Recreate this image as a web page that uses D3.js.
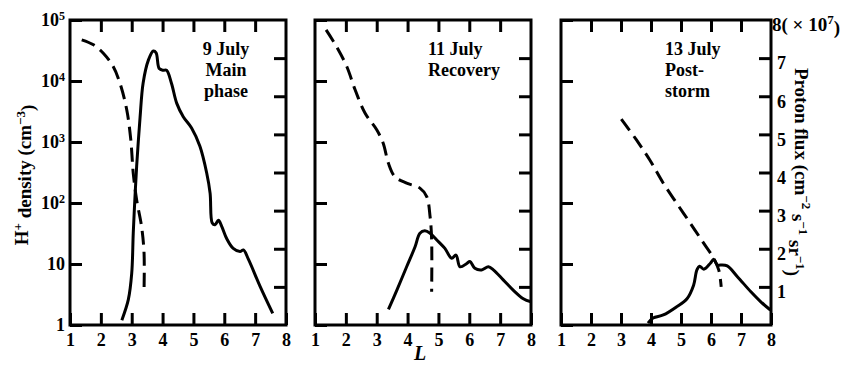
<!DOCTYPE html>
<html><head><meta charset="utf-8">
<script src="https://cdn.jsdelivr.net/npm/d3@7"></script>
<style>
body{margin:0;background:#fff}
svg{display:block}
text{font-family:"Liberation Serif","DejaVu Serif",serif;font-weight:bold;fill:#000}
</style>
</head><body>
<svg id="chart" width="849" height="367"></svg>
<script>
// L-shell tick values and the two vertical scales' ticks
const L_TICKS = [1, 2, 3, 4, 5, 6, 7, 8];
const DENSITY_TICKS = [1, 10, 100, 1000, 10000, 100000];
const DENSITY_EXP = ["1", "10", "10|2", "10|3", "10|4", "10|5"];
const FLUX_TICKS = [1, 2, 3, 4, 5, 6, 7];

// 9 July, main phase: H+ density [L, cm^-3] and proton flux [L, 10^7 units]
const july9Density = [[2.68,1.2],[2.89,2.6],[3.0,7],[3.05,32],[3.1,110],[3.16,400],[3.27,2500],[3.37,9300],
  [3.54,22000],[3.70,31000],[3.79,29000],[3.89,16000],[4.02,15000],[4.13,15000],[4.29,9100],[4.46,4300],
  [4.67,2600],[4.94,1700],[5.21,850],[5.43,310],[5.54,145],[5.61,47],[5.70,44],[5.81,52],[5.92,41],
  [6.08,26],[6.29,18],[6.51,16],[6.62,17],[6.78,12],[7.16,4.3],[7.57,1.55]];
const july9Flux = [[1.38,7.48],[1.76,7.35],[2.08,7.13],[2.40,6.78],[2.62,6.34],[2.84,5.64],[2.97,4.86],
  [3.05,3.98],[3.16,3.28],[3.32,2.58],[3.40,1.88],[3.40,0.92]];

// 11 July, recovery
const july11Density = [[3.38,1.8],[3.65,3.7],[3.97,9],[4.24,19],[4.40,32],[4.56,35],[4.73,32],[4.94,25],
  [5.21,18],[5.43,12.4],[5.57,14],[5.70,9],[5.92,10.2],[6.02,11],[6.18,8.5],[6.40,8],[6.62,9],[6.78,8],
  [7.10,5.5],[7.43,3.7],[7.75,2.7],[8.0,2.4]];
const july11Flux = [[1.36,7.74],[1.70,7.30],[2.03,6.78],[2.30,6.17],[2.62,5.56],[3.00,5.12],[3.21,4.77],
  [3.38,4.24],[3.59,3.89],[3.97,3.72],[4.40,3.59],[4.62,3.37],[4.73,2.84],[4.78,2.23],[4.78,0.87]];

// 13 July, post-storm
const july13Density = [[3.90,1.07],[4.07,1.3],[4.41,1.46],[4.86,2.0],[5.20,2.7],[5.42,4.5],[5.53,8],
  [5.62,9.2],[5.76,8.2],[5.98,10.3],[6.09,12],[6.21,9.6],[6.32,9.6],[6.54,9.3],[6.88,6.2],[7.33,3.5],
  [7.66,2.4],[7.98,1.76]];
const july13Flux = [[3.01,5.40],[3.51,4.86],[3.96,4.33],[4.41,3.72],[4.86,3.19],[5.31,2.67],[5.76,2.14],
  [6.09,1.75],[6.26,1.44],[6.34,1.0]];

const panels = [
  {x0: 70,  x1: 286, title: ["9 July", "Main", "phase"], tx: 226, anchor: "middle",
   density: july9Density, flux: july9Flux},
  {x0: 315, x1: 531, title: ["11 July", "Recovery"], tx: 428, anchor: "start",
   density: july11Density, flux: july11Flux},
  {x0: 561, x1: 771, title: ["13 July", "Post-", "storm"], tx: 665, anchor: "start",
   density: july13Density, flux: july13Flux}
];

const yTop = 20, yBot = 325, tick = 12;
const svg = d3.select("#chart");
const yDensity = d3.scaleLog().domain([1, 1e5]).range([yBot, yTop]);
const yFlux = d3.scaleLinear().domain([0, 8]).range([yBot, yTop]);

panels.forEach((p, i) => {
  const x = d3.scaleLinear().domain([1, 8]).range([p.x0, p.x1]);
  const g = svg.append("g");

  // ticks on all four sides, pointing inward
  const bottom = g.append("g").attr("transform", `translate(0,${yBot})`)
    .call(d3.axisBottom(x).tickValues(L_TICKS).tickSize(-tick).tickPadding(8).tickFormat(d3.format("d")));
  const top = g.append("g").attr("transform", `translate(0,${yTop})`)
    .call(d3.axisTop(x).tickValues(L_TICKS.slice(1, -1)).tickSize(-tick).tickFormat(""));
  const left = g.append("g").attr("transform", `translate(${p.x0},0)`)
    .call(d3.axisLeft(yDensity).tickValues(DENSITY_TICKS).tickSize(-tick).tickPadding(5)
      .tickFormat((d, k) => i === 0 ? DENSITY_EXP[k] : ""));
  const right = g.append("g").attr("transform", `translate(${p.x1},0)`)
    .call(d3.axisRight(yFlux).tickValues(FLUX_TICKS).tickSize(-tick).tickPadding(6)
      .tickFormat(d => i === 2 ? d : ""));

  [bottom, top, left, right].forEach(a => {
    a.select(".domain").remove();
    a.selectAll("line").attr("stroke", "#000").attr("stroke-width", 3);
    a.selectAll("text").attr("font-size", 18).attr("font-family", null);
  });
  right.selectAll("text").attr("dy", "0.6em");

  // decade labels with superscript exponents
  left.selectAll("text").each(function() {
    const t = d3.select(this), s = t.text();
    if (s.includes("|")) {
      const [base, e] = s.split("|");
      t.text(base);
      t.append("tspan").attr("font-size", 12).attr("dy", "-0.55em").text(e);
    }
  });

  // frame
  g.append("rect").attr("x", p.x0).attr("y", yTop).attr("width", p.x1 - p.x0).attr("height", yBot - yTop)
    .attr("fill", "none").attr("stroke", "#000").attr("stroke-width", 3);

  // H+ density (solid) and proton flux (dashed)
  const densityLine = d3.line().x(d => x(d[0])).y(d => yDensity(d[1])).curve(d3.curveCatmullRom.alpha(0.5));
  const fluxLine = d3.line().x(d => x(d[0])).y(d => yFlux(d[1])).curve(d3.curveCatmullRom.alpha(0.5));
  g.append("path").attr("d", densityLine(p.density)).attr("fill", "none")
    .attr("stroke", "#000").attr("stroke-width", 3).attr("stroke-linejoin", "round");
  g.append("path").attr("d", fluxLine(p.flux)).attr("fill", "none")
    .attr("stroke", "#000").attr("stroke-width", 3).attr("stroke-dasharray", "14,7");

  // panel title
  const tt = g.append("text").attr("x", p.tx).attr("y", 55).attr("font-size", 18).attr("text-anchor", p.anchor);
  p.title.forEach((line, k) => tt.append("tspan").attr("x", p.tx).attr("dy", k === 0 ? 0 : 21).text(line));
});

// right-axis scale marker
const rt = svg.append("text").attr("x", 772).attr("y", 31).attr("font-size", 19);
rt.append("tspan").text("8( × 10");
rt.append("tspan").attr("font-size", 13).attr("dy", "-0.55em").text("7");
rt.append("tspan").attr("dy", "0.55em").text(")");

// axis titles
const lt = svg.append("text").attr("transform", "translate(28,175) rotate(-90)")
  .attr("text-anchor", "middle").attr("font-size", 19);
lt.append("tspan").text("H");
lt.append("tspan").attr("font-size", 13).attr("dy", "-0.5em").text("+");
lt.append("tspan").attr("dy", "0.5em").text(" density (cm");
lt.append("tspan").attr("font-size", 13).attr("dy", "-0.5em").text("−3");
lt.append("tspan").attr("dy", "0.5em").text(")");

const pt = svg.append("text").attr("transform", "translate(795,172) rotate(90)")
  .attr("text-anchor", "middle").attr("font-size", 19);
pt.append("tspan").text("Proton flux (cm");
pt.append("tspan").attr("font-size", 13).attr("dy", "-0.5em").text("−2");
pt.append("tspan").attr("dy", "0.5em").text(" s");
pt.append("tspan").attr("font-size", 13).attr("dy", "-0.5em").text("−1");
pt.append("tspan").attr("dy", "0.5em").text(" sr");
pt.append("tspan").attr("font-size", 13).attr("dy", "-0.5em").text("−1");
pt.append("tspan").attr("dy", "0.5em").text(")");

svg.append("text").attr("x", 420).attr("y", 360).attr("font-size", 20)
  .attr("font-style", "italic").attr("text-anchor", "middle").text("L");
</script>
</body></html>
